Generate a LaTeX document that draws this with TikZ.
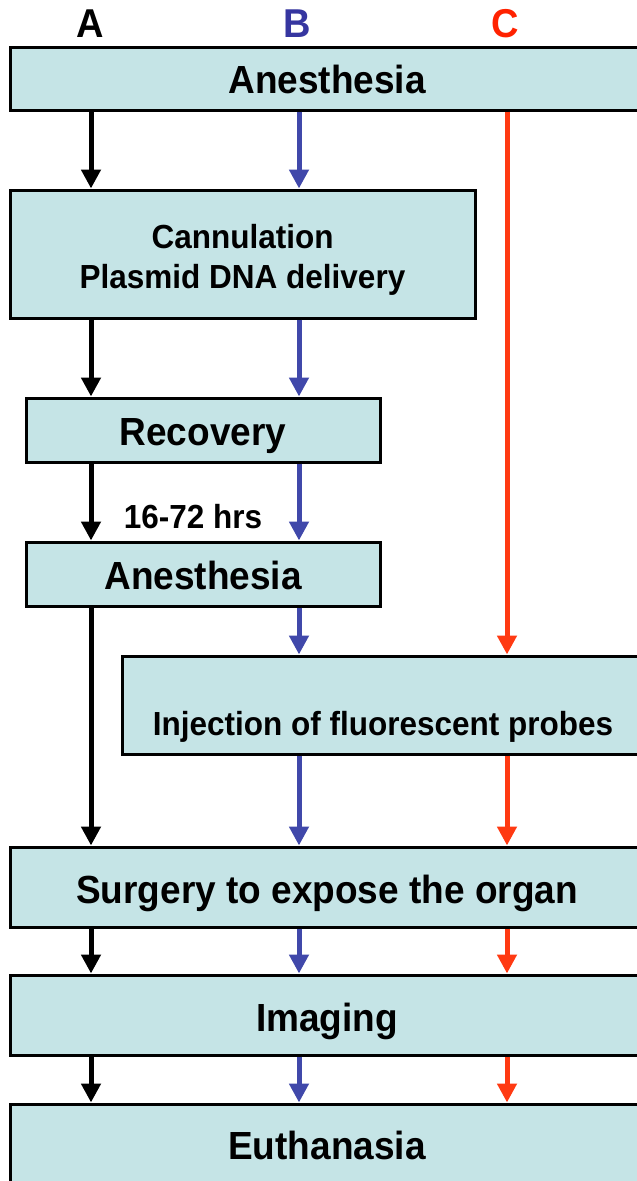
\documentclass[tikz,border=0pt]{standalone}
\usepackage{fontspec}
\usepackage{graphicx}
\setmainfont{Liberation Sans}
\usetikzlibrary{arrows.meta}
\definecolor{boxfill}{HTML}{C5E4E6}
\definecolor{arrA}{HTML}{000000}
\definecolor{arrB}{HTML}{4048AA}
\definecolor{labB}{HTML}{3636A0}
\definecolor{arrC}{HTML}{FF3A12}
\definecolor{labC}{HTML}{FF2200}
% text placed with its baseline #1 pt below the node centre, slightly taller glyphs
\newcommand{\boxtxt}[2]{\raisebox{-#1pt}[0pt][0pt]{\scalebox{1}[1.06]{#2}}}
\tikzset{
  stepbox/.style={draw=black, line width=3pt, fill=boxfill, rectangle, inner sep=0pt,
    font=\fontsize{37}{44}\selectfont\bfseries},
  smalltext/.style={font=\fontsize{31.5}{38}\selectfont\bfseries},
  collabel/.style={inner sep=0pt, font=\fontsize{38}{44}\selectfont\bfseries},
  flow/.style={line width=5pt, -{Triangle[width=19pt,length=19pt]}},
}
\begin{document}
\begin{tikzpicture}[x=1pt,y=-1pt]
\useasboundingbox (0,0) rectangle (637,1181);
\clip (0,0) rectangle (637,1181);
\fill[white] (0,0) rectangle (637,1181);

% column coordinates
\coordinate (cA) at (91,0);
\coordinate (cB) at (299,0);
\coordinate (cC) at (507,0);

% column labels
\node[collabel, text=black] (lA) at (90,24) {\scalebox{1}[1.06]{A}};
\node[collabel, text=labB] (lB) at (297,24) {\scalebox{1}[1.06]{B}};
\node[collabel, text=labC] (lC) at (505,24) {\scalebox{1}[1.06]{C}};

% boxes
\node[stepbox, minimum width=634pt, minimum height=63pt] (a1) at (327,78.5) {\boxtxt{14.5}{Anesthesia}};
\node[stepbox, smalltext, minimum width=465pt, minimum height=128pt] (cann) at (242.5,254)
  {\raisebox{6pt}[0pt][0pt]{\scalebox{1}[1.06]{\begin{tabular}[t]{@{}c@{}}Cannulation\\Plasmid DNA delivery\end{tabular}}}};
\node[stepbox, minimum width=354pt, minimum height=64pt] (rec) at (203,430) {\boxtxt{15}{Recovery}};
\node[stepbox, minimum width=354pt, minimum height=64pt] (a2) at (203,574) {\boxtxt{15}{Anesthesia}};
\node[stepbox, smalltext, minimum width=522pt, minimum height=98pt] (inj) at (383,705) {\boxtxt{30}{Injection of fluorescent probes}};
\node[stepbox, minimum width=634pt, minimum height=80pt] (surg) at (327,887) {\boxtxt{16}{Surgery to expose the organ}};
\node[stepbox, minimum width=634pt, minimum height=80pt] (img) at (327,1015) {\boxtxt{16.5}{Imaging}};
\node[stepbox, minimum width=634pt, minimum height=80pt] (euth) at (327,1144) {\boxtxt{15}{Euthanasia}};

% time label
\node[smalltext, inner sep=0pt] (hrs) at (193,517) {\scalebox{1}[1.06]{16-72 hrs}};

% column A (black)
\draw[flow, arrA] (a1.south -| cA) -- (cann.north -| cA);
\draw[flow, arrA] (cann.south -| cA) -- (rec.north -| cA);
\draw[flow, arrA] (rec.south -| cA) -- (a2.north -| cA);
\draw[flow, arrA] (a2.south -| cA) -- (surg.north -| cA);
\draw[flow, arrA] (surg.south -| cA) -- (img.north -| cA);
\draw[flow, arrA] (img.south -| cA) -- (euth.north -| cA);

% column B (blue)
\draw[flow, arrB] (a1.south -| cB) -- (cann.north -| cB);
\draw[flow, arrB] (cann.south -| cB) -- (rec.north -| cB);
\draw[flow, arrB] (rec.south -| cB) -- (a2.north -| cB);
\draw[flow, arrB] (a2.south -| cB) -- (inj.north -| cB);
\draw[flow, arrB] (inj.south -| cB) -- (surg.north -| cB);
\draw[flow, arrB] (surg.south -| cB) -- (img.north -| cB);
\draw[flow, arrB] (img.south -| cB) -- (euth.north -| cB);

% column C (red)
\draw[flow, arrC] (a1.south -| cC) -- (inj.north -| cC);
\draw[flow, arrC] (inj.south -| cC) -- (surg.north -| cC);
\draw[flow, arrC] (surg.south -| cC) -- (img.north -| cC);
\draw[flow, arrC] (img.south -| cC) -- (euth.north -| cC);
\end{tikzpicture}
\end{document}
